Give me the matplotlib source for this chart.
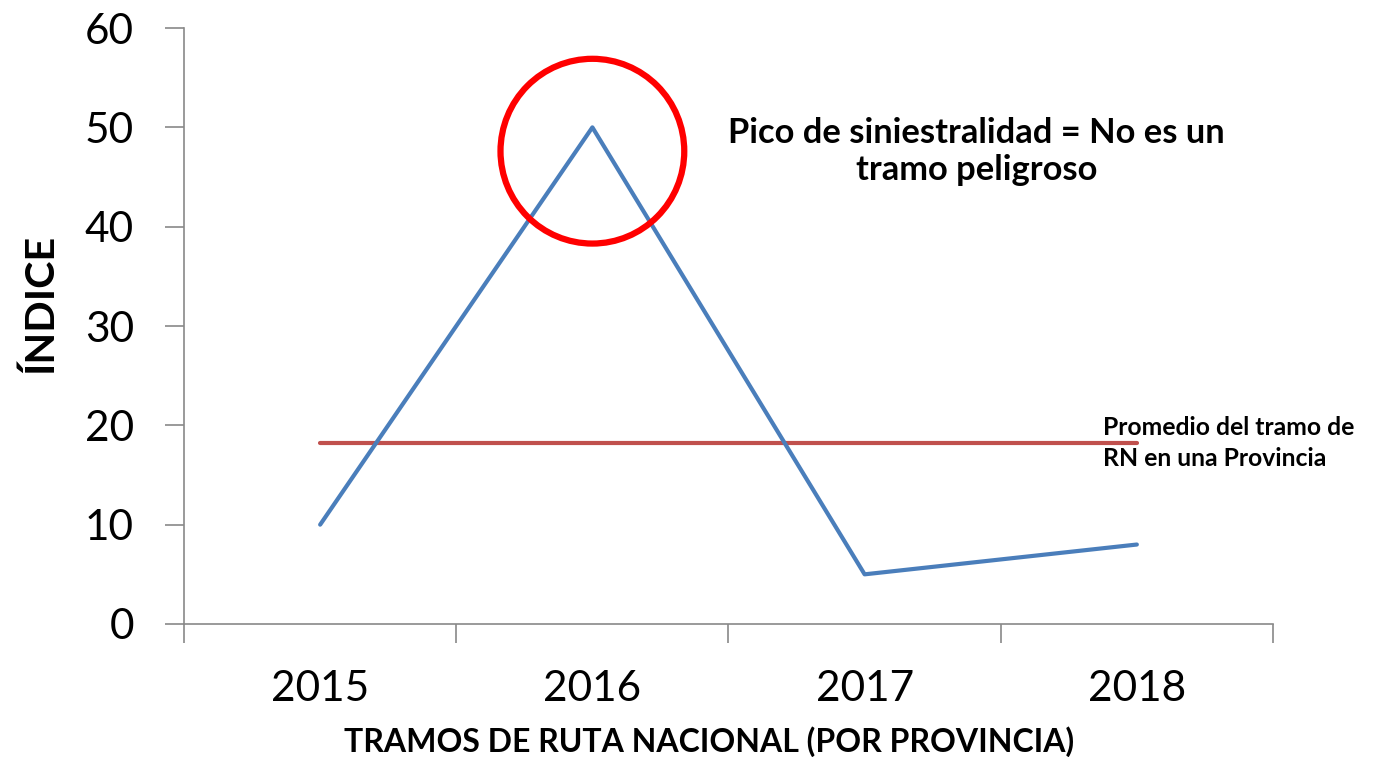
import matplotlib.pyplot as plt
from matplotlib.patches import Ellipse
from matplotlib.ticker import FixedLocator, NullFormatter

plt.rcParams['font.family'] = ['Lato', 'DejaVu Sans']

years = ['2015', '2016', '2017', '2018']
indice = [10, 50, 5, 8]
promedio = [18.25, 18.25, 18.25, 18.25]
yticks = [0, 10, 20, 30, 40, 50, 60]

fig = plt.figure(figsize=(13.9, 7.57), dpi=100)
ax = fig.add_axes([0.1324, 0.1757, 0.7834, 0.7873])

x = list(range(len(years)))
ax.plot(x, indice, color='#4A7EBB', lw=3, solid_capstyle='round', zorder=3)
ax.plot(x, promedio, color='#C0504D', lw=3, solid_capstyle='round', zorder=2)

# circle around the peak
ax.add_patch(Ellipse((1, 47.6), width=0.675, height=18.6, fill=False,
                     edgecolor='#FF0000', lw=4.5, zorder=4))

ax.text(2.41, 47.6, 'Pico de siniestralidad = No es un\ntramo peligroso',
        ha='center', va='center', fontsize=24.8, fontweight='bold',
        linespacing=1.2)
ax.text(2.876, 18.2, 'Promedio del tramo de\nRN en una Provincia',
        ha='left', va='center', fontsize=17.8, fontweight='bold',
        linespacing=1.45)

ax.set_xlim(-0.5, 3.5)
ax.set_ylim(0, 60)
ax.set_yticks(yticks)
ax.set_xticks(x)
ax.set_xticklabels(years)
ax.xaxis.set_minor_locator(FixedLocator([-0.5, 0.5, 1.5, 2.5, 3.5]))
ax.xaxis.set_minor_formatter(NullFormatter())
ax.tick_params(axis='x', which='major', length=0, pad=33, labelsize=30.5)
ax.tick_params(axis='x', which='minor', length=14, width=1.2, color='#898989')
ax.tick_params(axis='y', length=14, width=1.2, color='#898989', pad=22,
               labelsize=30.5)

for s in ['top', 'right']:
    ax.spines[s].set_visible(False)
for s in ['left', 'bottom']:
    ax.spines[s].set_color('#898989')
    ax.spines[s].set_linewidth(1.2)

fig.text(709 / 1390, 1 - 742 / 757, 'TRAMOS DE RUTA NACIONAL (POR PROVINCIA)',
         ha='center', va='center', fontsize=23, fontweight='bold')
fig.text(40 / 1390, 1 - 303 / 757, 'ÍNDICE', rotation=90,
         ha='center', va='center', fontsize=29.7, fontweight='bold')

plt.savefig('out.png', dpi=100)
